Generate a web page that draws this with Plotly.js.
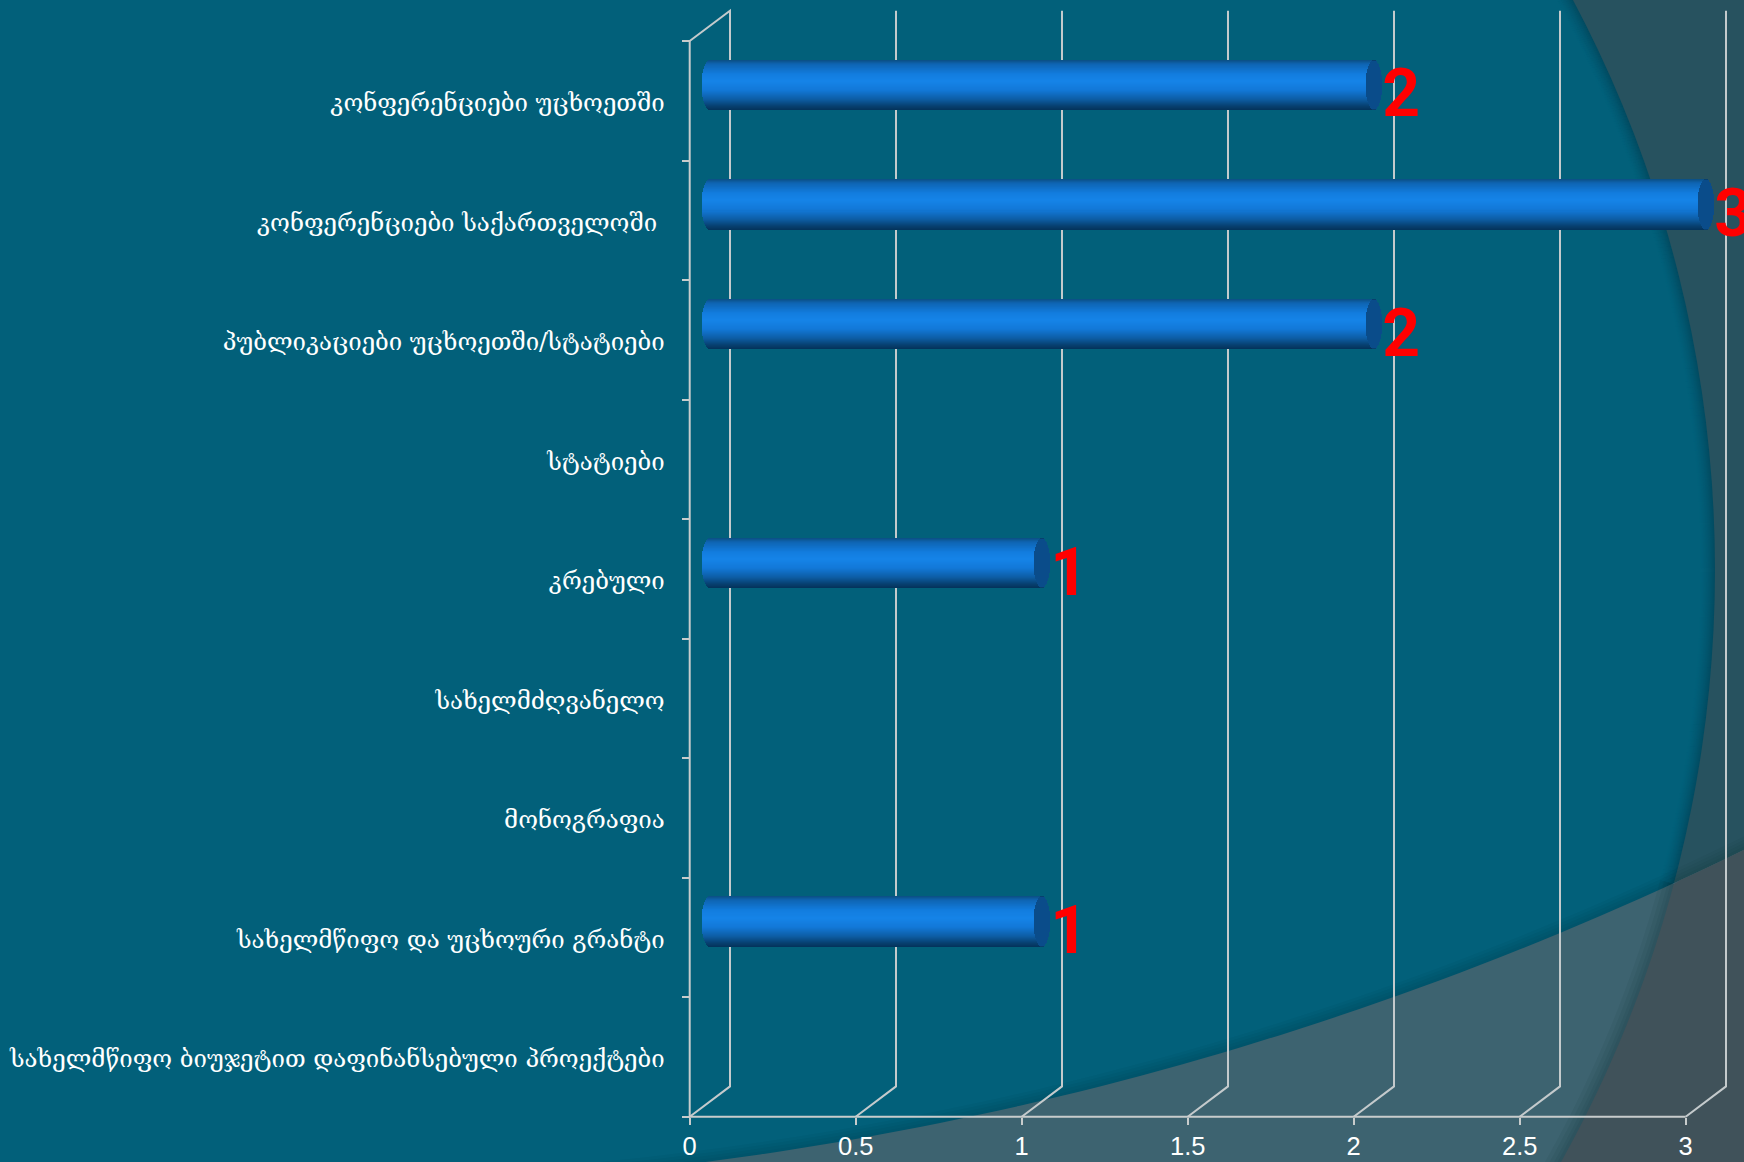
<!DOCTYPE html>
<html><head><meta charset="utf-8">
<script src="https://cdn.plot.ly/plotly-3.0.1.min.js"></script>
<style>html,body{margin:0;padding:0;background:#27525f;overflow:hidden}#c{width:1744px;height:1162px}</style>
</head><body><div id="c"></div>
<script>
// DATA (bottom to top)
const categories = [
  "სახელმწიფო ბიუჯეტით დაფინანსებული პროექტები",
  "სახელმწიფო და უცხოური გრანტი",
  "მონოგრაფია",
  "სახელმძღვანელო",
  "კრებული",
  "სტატიები",
  "პუბლიკაციები უცხოეთში/სტატიები",
  "კონფერენციები საქართველოში\u00a0",
  "კონფერენციები უცხოეთში"
];
const values = [0, 1, 0, 0, 1, 0, 2, 3, 2];
const xTicks = [0, 0.5, 1, 1.5, 2, 2.5, 3];

// Layout geometry: the plot area fills the page, axes are anchored inside it
const W = 1744, H = 1162;
const L = 689.7, R = 1685.7, T = 41, B = 1116.7;
const pxX = (R - L) / 3, pxY = (B - T) / categories.length;
const depthX = 40.3 / pxX, depthY = 30.3 / pxY;
const barH = 50.5 / pxY, capW = 8.3 / pxX;
const idx = categories.map((_, i) => i);
const shown = idx.filter(i => values[i] > 0);

// paper helpers
const px = x => x / W;
const py = y => 1 - y / H;
const hex = c => '#' + c.map(v => Math.round(v).toString(16).padStart(2, '0')).join('');
const mix = (a, b, t) => a.map((v, i) => v + (b[i] - v) * t);

// background
const TEAL = [2, 96, 122], DARK = [39, 82, 95], LIGHT = [61, 99, 112], GREY = [64, 82, 90], EDGE = [2, 76, 98];
const C1 = {x: 500, y: 570, r: 1215}, C2 = {x: 273.5, y: -2158, r: 3348};
const c2y = x => C2.y + Math.sqrt(C2.r * C2.r - (x - C2.x) * (x - C2.x));
const c1x = y => C1.x + Math.sqrt(C1.r * C1.r - (y - C1.y) * (y - C1.y));
const pathOf = (pts, close) => pts.map((p, i) => (i ? 'L' : 'M') + px(p[0]).toFixed(5) + ',' + py(p[1]).toFixed(5)).join(' ') + (close ? ' Z' : '');
const shapes = [];
const SH = 14;
for (let k = SH; k >= 0; k--) {
  const r = C1.r - (SH - k);
  shapes.push({type: 'circle', xref: 'paper', yref: 'paper', layer: 'below', line: {width: 0},
    x0: px(C1.x - r), x1: px(C1.x + r), y0: py(C1.y + r), y1: py(C1.y - r),
    fillcolor: hex(mix(TEAL, EDGE, Math.pow(k / SH, 1.5)))});
}
const curve2 = [];
for (let x = 560; x <= W + 20; x += 20) curve2.push([x, c2y(x)]);
[3, 6, 9, 12].forEach(w => shapes.push({type: 'path', xref: 'paper', yref: 'paper', layer: 'below',
  path: pathOf(curve2, false), line: {width: w * 2, color: 'rgba(0,20,30,0.035)'}}));
shapes.push({type: 'path', xref: 'paper', yref: 'paper', layer: 'below', line: {width: 0},
  fillcolor: hex(LIGHT), path: pathOf(curve2.concat([[W + 20, H + 20], [560, H + 20]]), true)});
let yCross = 800;
for (let y = 800; y < 1000; y += 1) { if (y >= c2y(c1x(y))) { yCross = y; break; } }
const arc = [];
for (let y = yCross; y <= H + 20; y += 10) arc.push([c1x(y), y]);
[3, 6, 10, 14].forEach(w => shapes.push({type: 'path', xref: 'paper', yref: 'paper', layer: 'below',
  path: pathOf(arc, false), line: {width: w * 2, color: 'rgba(0,30,40,0.06)'}}));
const upper = curve2.filter(p => p[0] > c1x(yCross));
shapes.push({type: 'path', xref: 'paper', yref: 'paper', layer: 'below', line: {width: 0},
  fillcolor: hex(GREY), path: pathOf(arc.concat([[W + 20, H + 20]]).concat(upper.slice().reverse()), true)});

// grid walls and axis lines, in data coordinates
const gridColor = '#c4cacc', axisColor = '#c8cccc';
const poly = (xs, ys, color) => shapes.push({type: 'path', xref: 'x', yref: 'y', layer: 'below',
  path: xs.map((x, i) => (i ? 'L' : 'M') + x + ',' + ys[i]).join(' '), line: {color: color, width: 2}});
xTicks.forEach((v, n) => {
  const xs = [v, v + depthX, v + depthX];
  const ys = [-0.5, -0.5 + depthY, 8.5 + depthY];
  if (n === 0) { xs.push(v); ys.push(8.5); }
  poly(xs, ys, gridColor);
});
poly([0, 3], [-0.5, -0.5], axisColor);
poly([0, 0], [-0.5, 8.5], axisColor);

// bars: a stack of thin strips gives the cylinder its shading
const traces = [];
const stops = [[0, [10, 78, 130]], [0.08, [14, 100, 178]], [0.28, [18, 124, 222]], [0.42, [21, 132, 232]],
  [0.6, [18, 120, 216]], [0.78, [13, 94, 166]], [0.92, [7, 64, 112]], [1, [4, 50, 90]]];
const gradAt = t => {
  for (let i = 1; i < stops.length; i++) if (t <= stops[i][0]) {
    return hex(mix(stops[i - 1][1], stops[i][1], (t - stops[i - 1][0]) / (stops[i][0] - stops[i - 1][0])));
  }
  return hex(stops[stops.length - 1][1]);
};
const N = 50, band = barH / N, midX = depthX / 2, midY = depthY / 2 + 0.005;
for (let b = 0; b < N; b++) {
  const t = (b + 0.5) / N, u = 2 * t - 1, s = Math.sqrt(1 - u * u);
  const offs = barH / 2 - (b + 1) * band;
  traces.push({type: 'bar', orientation: 'h', hoverinfo: 'skip', showlegend: false, opacity: 1,
    y: shown.map(i => i + midY), x: shown.map(i => values[i] + capW * s),
    base: shown.map(() => midX - capW * s), width: band * 1.1, offset: offs,
    marker: {color: gradAt(t), opacity: 1, line: {width: 0}}});
}
for (let b = 0; b < N; b++) {
  const t = (b + 0.5) / N, u = 2 * t - 1, s = Math.sqrt(1 - u * u);
  const offs = barH / 2 - (b + 1) * band;
  const e = s * capW;
  traces.push({type: 'bar', orientation: 'h', hoverinfo: 'skip', showlegend: false, opacity: 1,
    y: shown.map(i => i + midY), x: shown.map(() => 2 * e),
    base: shown.map(i => values[i] + midX - e), width: band * 1.1, offset: offs,
    marker: {color: s < 0.32 ? '#083f6e' : '#0a4c8a', opacity: 1, line: {width: 0}}});
}
traces.push({type: 'scatter', mode: 'text', hoverinfo: 'skip', showlegend: false,
  x: shown.map(i => values[i] + midX + capW), y: shown.map(i => i + midY - 0.125),
  text: shown.map(i => String(values[i])), textposition: 'middle right',
  textfont: {family: 'Roboto, Liberation Sans, Arial, sans-serif', size: 66, color: '#ff0000', weight: 700}});

const layout = {
  width: W, height: H, paper_bgcolor: hex(DARK), plot_bgcolor: 'rgba(0,0,0,0)',
  margin: {l: 0, r: 0, t: 0, b: 0, pad: 0}, barmode: 'overlay', bargap: 0, bargroupgap: 0, showlegend: false, shapes: shapes,
  xaxis: {range: [-L / pxX, (W - L) / pxX], anchor: 'free', position: (H - B) / H, side: 'bottom',
    tickmode: 'array', tickvals: xTicks, ticktext: xTicks.map(String), showgrid: false, zeroline: false,
    showline: false, ticks: 'outside', ticklen: 7, tickwidth: 2, tickcolor: axisColor,
    tickfont: {family: 'Liberation Sans, Arial, sans-serif', size: 25.5, color: '#ffffff'}, automargin: false},
  yaxis: {range: [-0.5 - (H - B) / pxY, 8.5 + T / pxY], anchor: 'free', position: L / W, side: 'left',
    tickmode: 'array', tickvals: idx.map(i => i - 0.018), ticktext: categories, showgrid: false, zeroline: false,
    showline: false, ticks: '', ticklabelstandoff: 25,
    minor: {tickmode: 'array', tickvals: [-0.5,0.5,1.5,2.5,3.5,4.5,5.5,6.5,7.5,8.5], ticks: 'outside', ticklen: 8, tickwidth: 2, tickcolor: axisColor, showgrid: false},
    tickfont: {family: 'DejaVu Serif, serif', size: 24, color: '#ffffff'}, automargin: false}
};
Plotly.newPlot('c', traces, layout, {displayModeBar: false, staticPlot: true});
</script></body></html>
